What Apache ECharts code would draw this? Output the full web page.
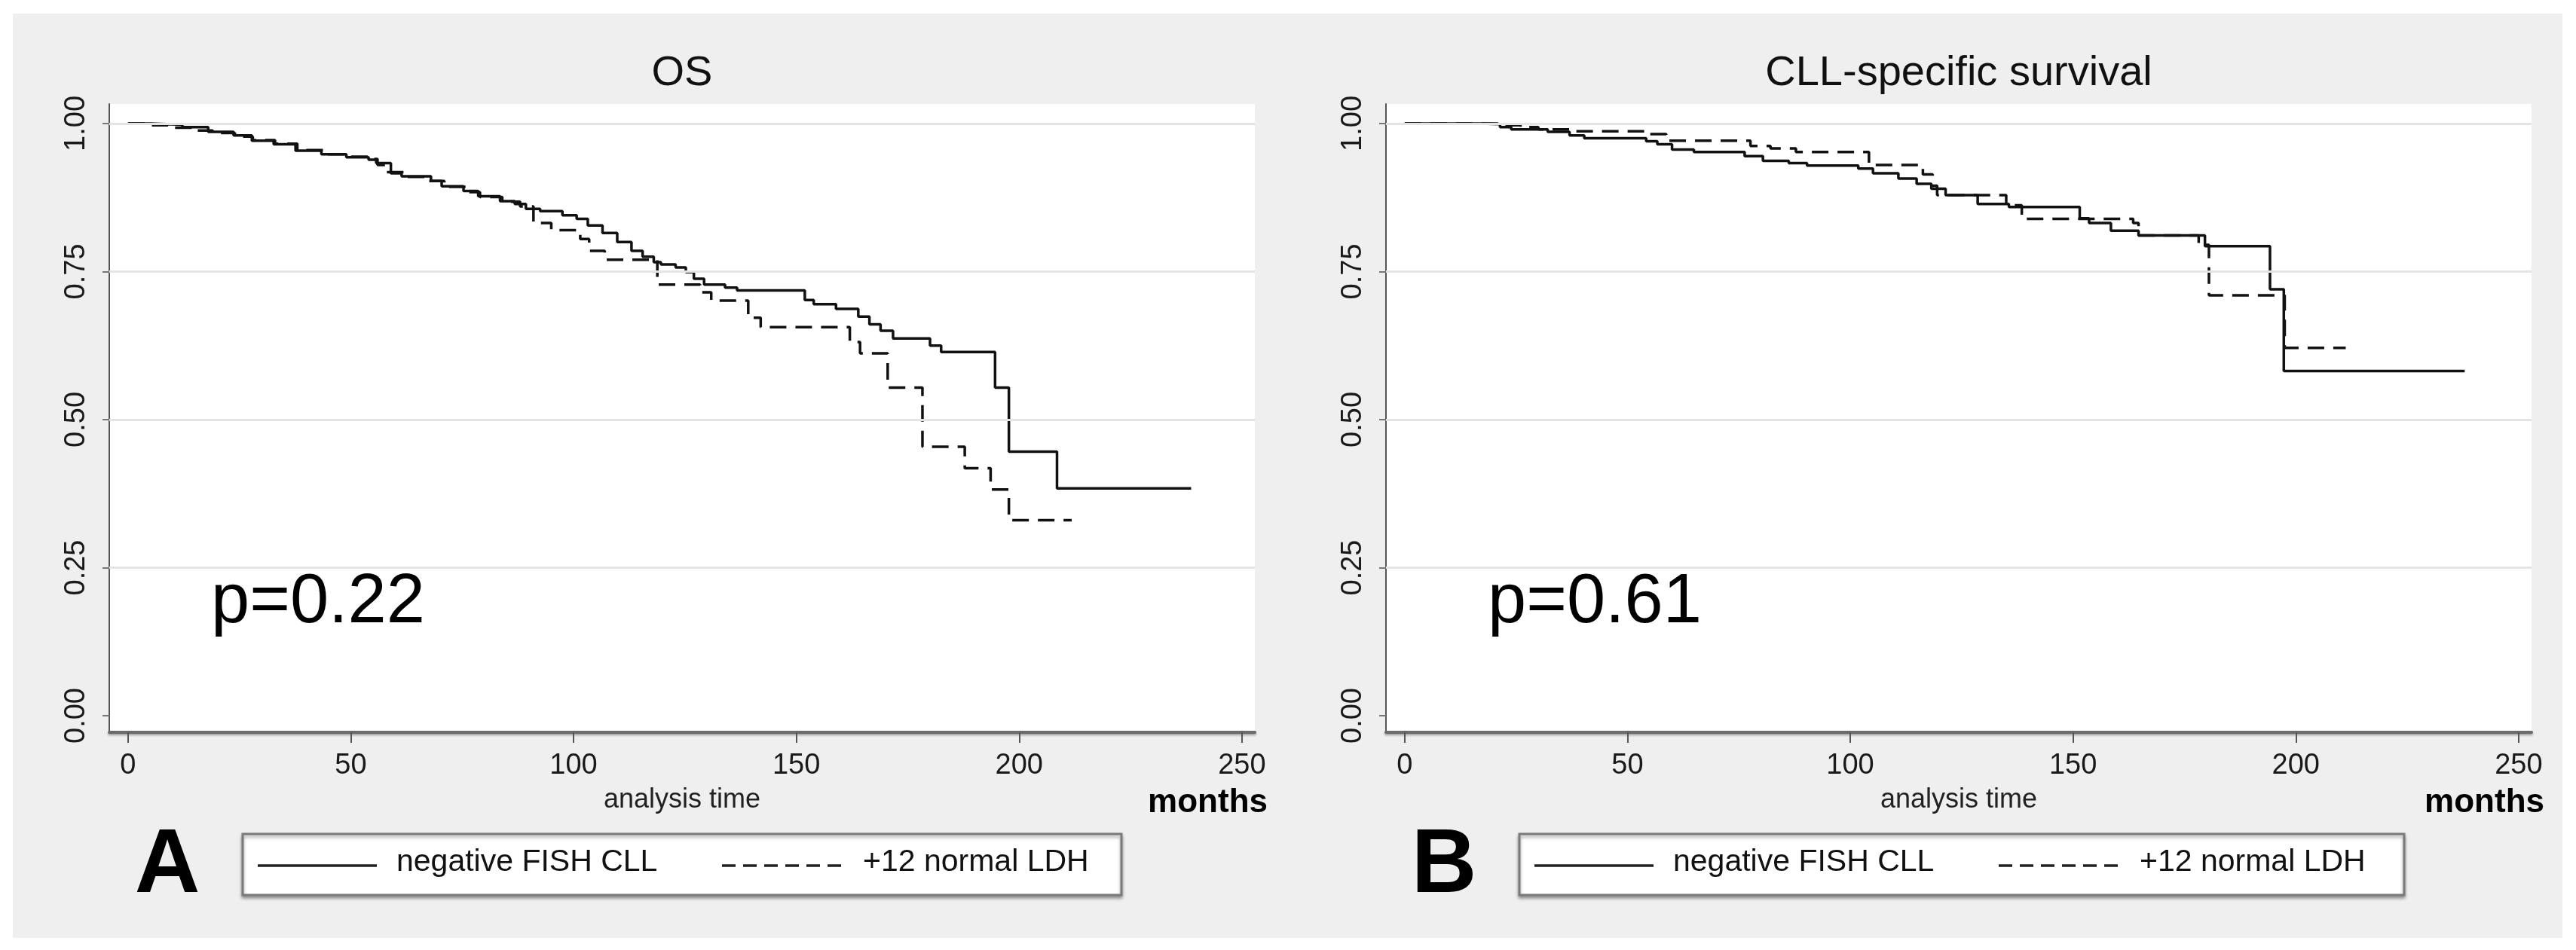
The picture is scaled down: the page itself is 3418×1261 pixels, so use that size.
<!DOCTYPE html>
<html>
<head>
<meta charset="utf-8">
<script src="https://cdn.jsdelivr.net/npm/echarts@6/dist/echarts.min.js"></script>
<style>
  html, body { margin: 0; padding: 0; background: #ffffff; }
  #wrap { position: absolute; left: 17px; top: 18px; width: 3383px; height: 1227px; }
  #chart { width: 3383px; height: 1227px; }
</style>
</head>
<body>
<div id="wrap"><div id="chart"></div></div>
<script>
// ---- data (time in months, survival probability) ----
const panelTitles = ['OS', 'CLL-specific survival'];
const panelLetters = ['A', 'B'];
const pValues = ['p=0.22', 'p=0.61'];
const seriesNames = ['negative FISH CLL', '+12 normal LDH'];
const xTicks = [0, 50, 100, 150, 200, 250];
const yTicks = [0, 0.25, 0.5, 0.75, 1];
const gridValues = [0.25, 0.5, 0.75, 1];

const osNegFish = [[0,1],[5,0.998],[12.2,0.994],[18,0.986],[23.7,0.98],[27.8,0.971],[32.7,0.965],[37.6,0.954],[43.4,0.948],[49,0.943],[54,0.939],[55.7,0.933],[59,0.916],[61.4,0.911],[68,0.903],[70.4,0.894],[75.3,0.886],[78.6,0.877],[83.5,0.869],[86.8,0.864],[89.3,0.856],[92.5,0.852],[97.5,0.845],[100.7,0.839],[103.2,0.828],[106.5,0.815],[109.8,0.8],[113,0.785],[115.5,0.775],[118,0.766],[119.6,0.762],[122.9,0.757],[125.2,0.749],[127,0.738],[129.3,0.728],[134,0.723],[136.7,0.718],[151.9,0.702],[153.9,0.695],[158.9,0.687],[163.9,0.674],[166.4,0.661],[168.9,0.65],[171.7,0.637],[180,0.625],[182.5,0.614],[194.6,0.554],[197.7,0.446],[208.5,0.384],[238.6,0.384]];
const osTri12 = [[0,1],[4,0.997],[9,0.993],[14,0.988],[19,0.984],[24,0.978],[28,0.972],[33,0.966],[38,0.955],[44,0.948],[50,0.944],[54,0.94],[56,0.93],[58,0.918],[62,0.91],[67,0.903],[71,0.893],[76,0.884],[79,0.876],[84,0.868],[88,0.86],[91,0.832],[95,0.82],[101.5,0.805],[103.5,0.785],[107,0.77],[118.8,0.728],[128.4,0.715],[130.9,0.701],[139.2,0.672],[142,0.656],[162,0.631],[164.3,0.612],[170.5,0.554],[178.3,0.454],[187.8,0.418],[193.6,0.382],[197.7,0.33],[211.8,0.33]];
const cssNegFish = [[0,1],[17,0.999],[21.4,0.994],[23.9,0.99],[32.1,0.986],[37,0.98],[40.3,0.975],[54.2,0.97],[56.7,0.965],[60,0.956],[64.9,0.952],[76.3,0.945],[80.4,0.937],[86.2,0.933],[90.3,0.929],[101.8,0.924],[105.1,0.916],[110.8,0.907],[114.9,0.898],[118.2,0.89],[121.4,0.879],[128.6,0.864],[135.6,0.859],[151.5,0.84],[153.6,0.832],[158.5,0.819],[164.7,0.811],[179.6,0.793],[194.2,0.72],[197.3,0.582],[237.9,0.582]];
const cssTri12 = [[0,1],[22,0.997],[26,0.994],[30,0.99],[37,0.987],[54.2,0.982],[58.7,0.971],[77.6,0.962],[82.1,0.958],[87.8,0.952],[104.2,0.93],[116.3,0.914],[118.5,0.895],[119.5,0.879],[135,0.862],[138.5,0.839],[163.5,0.832],[164.7,0.811],[178.2,0.795],[180.5,0.71],[197.5,0.621],[211.2,0.621]];

const panelData = [[osNegFish, osTri12], [cssNegFish, cssTri12]];

// ---- layout ----
const FONT = "'Liberation Sans', Arial, sans-serif";
const gridLefts = [128, 1822];
const GRID_TOP = 120, GRID_W = 1520, GRID_H = 834;
const X_MIN = -4.2, X_MAX = 252.9, Y_MIN = -0.028, Y_MAX = 1.033;
const DASH = [22, 12];
const LINE_W = 3.5;

const chart = echarts.init(document.getElementById('chart'), null, { renderer: 'canvas' });

const grids = [], xAxes = [], yAxes = [], series = [], graphics = [];

gridLefts.forEach((left, i) => {
  grids.push({ left: left, top: GRID_TOP, width: GRID_W, height: GRID_H, show: true,
               backgroundColor: '#ffffff', borderWidth: 0 });
  xAxes.push({
    type: 'value', gridIndex: i, min: X_MIN, max: X_MAX,
    axisLine: { show: true, onZero: false, lineStyle: { color: '#6a6a6a', width: 4,
      shadowColor: 'rgba(0,0,0,0.35)', shadowBlur: 3, shadowOffsetY: 2 } },
    axisTick: { show: true, customValues: xTicks, length: 14, lineStyle: { color: '#555', width: 2 } },
    axisLabel: { show: true, customValues: xTicks, fontSize: 38, fontFamily: FONT, color: '#1a1a1a', margin: 26 },
    splitLine: { show: false }
  });
  yAxes.push({
    type: 'value', gridIndex: i, min: Y_MIN, max: Y_MAX,
    axisLine: { show: true, onZero: false, lineStyle: { color: '#555', width: 2 } },
    axisTick: { show: true, customValues: yTicks, length: 9, lineStyle: { color: '#777', width: 2 } },
    axisLabel: { show: true, customValues: yTicks, rotate: 90, fontSize: 38, fontFamily: FONT,
                 color: '#1a1a1a', margin: 24, formatter: v => v.toFixed(2) },
    splitLine: { show: false }
  });
  // gridlines
  series.push({
    type: 'line', xAxisIndex: i, yAxisIndex: i, data: [], z: 1, silent: true,
    markLine: { silent: true, symbol: ['none', 'none'], label: { show: false },
      lineStyle: { color: '#e4e4e4', width: 3, type: 'solid' },
      emphasis: { disabled: true },
      data: gridValues.map(v => ({ yAxis: v })) }
  });
  panelData[i].forEach((d, k) => {
    series.push({
      name: seriesNames[k], type: 'line', xAxisIndex: i, yAxisIndex: i, data: d,
      step: 'end', symbol: 'none', showSymbol: false, z: 3, silent: true,
      lineStyle: { color: '#111', width: LINE_W, type: k === 0 ? 'solid' : DASH },
      emphasis: { disabled: true }
    });
  });

  const cx = left + GRID_W / 2;
  const off = i * 1694;
  graphics.push(
    { type: 'text', x: cx, y: 80, style: { text: panelTitles[i], font: `56px ${FONT}`, fill: '#111',
      textAlign: 'center', textVerticalAlign: 'middle' } },
    { type: 'text', x: 263 + off, y: 783, style: { text: pValues[i], font: `92px ${FONT}`, fill: '#000',
      textAlign: 'left', textVerticalAlign: 'middle' } },
    { type: 'text', x: cx, y: 1044, style: { text: 'analysis time', font: `36px ${FONT}`, fill: '#222',
      textAlign: 'center', textVerticalAlign: 'middle' } },
    { type: 'text', x: left + GRID_W + 17, y: 1048, style: { text: 'months', font: `bold 44px ${FONT}`, fill: '#000',
      textAlign: 'right', textVerticalAlign: 'middle' } },
    { type: 'text', x: 205 + off, y: 1133, style: { text: panelLetters[i], font: `bold 120px ${FONT}`, fill: '#000',
      textAlign: 'center', textVerticalAlign: 'middle' } },
    // legend box
    { type: 'rect', shape: { x: 305 + off, y: 1089, width: 1166 + i * 8, height: 81 },
      style: { fill: '#ffffff', stroke: '#7a7a7a', lineWidth: 3,
               shadowColor: 'rgba(0,0,0,0.35)', shadowBlur: 4, shadowOffsetY: 3 } },
    { type: 'line', shape: { x1: 325 + off, y1: 1131, x2: 483 + off, y2: 1131 },
      style: { stroke: '#222', lineWidth: LINE_W } },
    { type: 'text', x: 509 + off, y: 1127, style: { text: seriesNames[0], font: `41px ${FONT}`, fill: '#111',
      textAlign: 'left', textVerticalAlign: 'middle' } },
    { type: 'line', shape: { x1: 941 + off, y1: 1131, x2: 1102 + off, y2: 1131 },
      style: { stroke: '#222', lineWidth: LINE_W, lineDash: [18, 10] } },
    { type: 'text', x: 1128 + off, y: 1127, style: { text: seriesNames[1], font: `41px ${FONT}`, fill: '#111',
      textAlign: 'left', textVerticalAlign: 'middle' } }
  );
});

chart.setOption({
  backgroundColor: '#efefef',
  animation: false,
  grid: grids,
  xAxis: xAxes,
  yAxis: yAxes,
  series: series,
  graphic: { elements: graphics }
});
</script>
</body>
</html>
